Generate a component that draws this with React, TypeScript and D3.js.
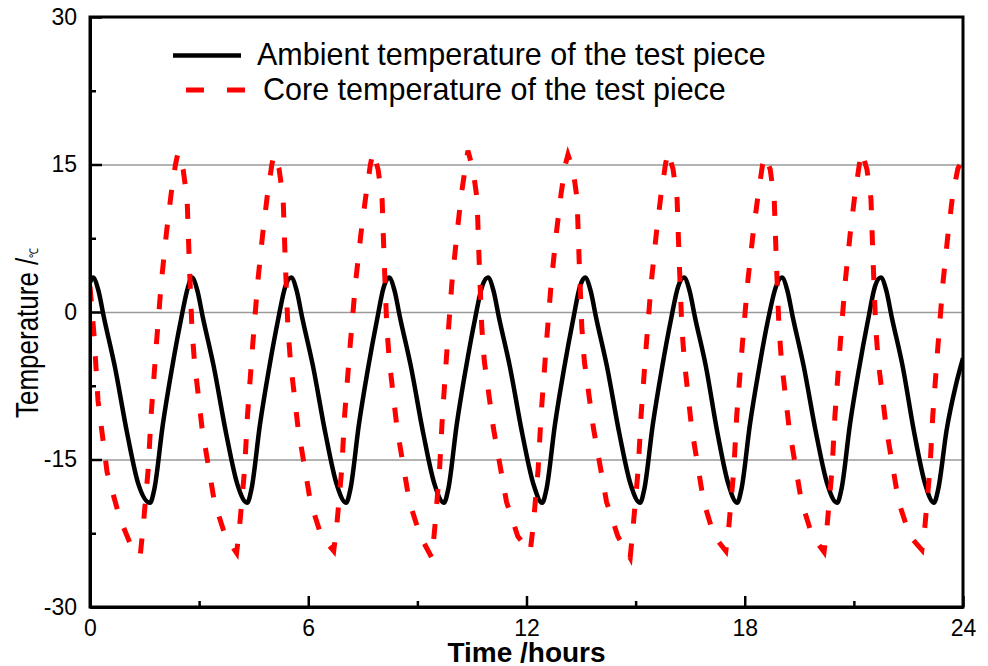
import React, { useEffect, useRef } from "react";
import * as d3 from "d3";

const W = 988;
const H = 666;
const PLOT = { left: 90, right: 963, top: 17, bottom: 607 };

const xDomain: [number, number] = [0, 24];
const yDomain: [number, number] = [-30, 30];
const xMajorTicks = [0, 6, 12, 18, 24];
const xMinorTicks = [3, 9, 15, 21];
const yMajorTicks = [-30, -15, 0, 15, 30];
const yMinorTicks = [-22.5, -7.5, 7.5, 22.5];
const gridValues = [-15, 0, 15];

const seriesNames = [
  "Ambient temperature of the test piece",
  "Core temperature of the test piece",
];
const xTitle = "Time /hours";
const yTitle = "Temperature /";
const yUnit = "℃";

// [time (hours), temperature]
const ambientData: [number, number][] = [
  [0, 3.0], [0.08, 3.5], [0.23, 2.2], [0.38, -0.5], [0.68, -5.5], [1.03, -12.5], [1.33, -17.5], [1.65, -19.4], [1.77, -18.0], [2.0, -11.5], [2.25, -5.8], [2.5, -0.8], [2.7, 2.6],
  [2.8, 3.5], [2.95, 2.2], [3.1, -0.5], [3.4, -5.5], [3.75, -12.5], [4.05, -17.5], [4.32, -19.4], [4.44, -18.0], [4.67, -11.5], [4.92, -5.8], [5.17, -0.8], [5.37, 2.6],
  [5.53, 3.5], [5.68, 2.2], [5.83, -0.5], [6.13, -5.5], [6.48, -12.5], [6.78, -17.5], [7.04, -19.4], [7.16, -18.0], [7.39, -11.5], [7.64, -5.8], [7.89, -0.8], [8.08, 2.6],
  [8.22, 3.5], [8.37, 2.2], [8.52, -0.5], [8.82, -5.5], [9.17, -12.5], [9.47, -17.5], [9.73, -19.4], [9.85, -18.0], [10.08, -11.5], [10.33, -5.8], [10.58, -0.8], [10.78, 2.6],
  [10.94, 3.5], [11.09, 2.2], [11.24, -0.5], [11.54, -5.5], [11.89, -12.5], [12.19, -17.5], [12.43, -19.4], [12.55, -18.0], [12.78, -11.5], [13.03, -5.8], [13.28, -0.8], [13.47, 2.6],
  [13.61, 3.5], [13.76, 2.2], [13.91, -0.5], [14.21, -5.5], [14.56, -12.5], [14.86, -17.5], [15.12, -19.4], [15.24, -18.0], [15.47, -11.5], [15.72, -5.8], [15.97, -0.8], [16.17, 2.6],
  [16.33, 3.5], [16.48, 2.2], [16.63, -0.5], [16.93, -5.5], [17.26, -12.5], [17.55, -17.5], [17.79, -19.4], [17.91, -18.0], [18.14, -11.5], [18.39, -5.8], [18.64, -0.8], [18.86, 2.6],
  [19.02, 3.5], [19.17, 2.2], [19.32, -0.5], [19.62, -5.5], [19.97, -12.5], [20.27, -17.5], [20.54, -19.4], [20.66, -18.0], [20.89, -11.5], [21.14, -5.8], [21.39, -0.8], [21.58, 2.6],
  [21.74, 3.5], [21.89, 2.2], [22.04, -0.5], [22.34, -5.5], [22.67, -12.5], [22.96, -17.5], [23.2, -19.4], [23.32, -18.0], [23.55, -12.0], [23.8, -7.5], [24.0, -4.7],
];

const coreData: [number, number][] = [
  [0, 2.6], [0.11, -2.3], [0.22, -9.0], [0.47, -16.3], [0.82, -21.0], [1.1, -23.5], [1.38, -24.8],
  [1.46, -21.9], [1.6, -16.0], [1.68, -10.5], [1.82, -3.5], [1.96, 3.0], [2.1, 8.0], [2.23, 12.0], [2.35, 15.0], [2.42, 16.2],
  [2.56, 14.5], [2.67, 11.5], [2.73, 5.0], [2.8, -1.5], [2.87, -5.0], [3.08, -11.8], [3.42, -19.3], [3.72, -22.8], [4.03, -24.5],
  [4.11, -21.9], [4.25, -16.0], [4.33, -10.5], [4.47, -3.5], [4.61, 3.0], [4.75, 8.0], [4.88, 12.0], [5.0, 15.0], [5.06, 16.0],
  [5.2, 14.5], [5.31, 11.5], [5.37, 5.0], [5.44, -1.5], [5.51, -5.0], [5.72, -11.8], [6.06, -19.3], [6.36, -22.8], [6.7, -24.3],
  [6.78, -21.9], [6.92, -16.0], [7.0, -10.5], [7.15, -3.5], [7.3, 3.0], [7.45, 8.0], [7.59, 12.0], [7.71, 15.0], [7.78, 16.3],
  [7.92, 14.5], [8.03, 11.5], [8.09, 5.0], [8.16, -1.5], [8.23, -5.0], [8.44, -11.8], [8.78, -19.3], [9.08, -22.8], [9.4, -25.0],
  [9.48, -21.9], [9.61, -16.0], [9.69, -10.5], [9.82, -3.5], [9.95, 3.0], [10.09, 8.0], [10.21, 12.0], [10.33, 15.0], [10.39, 16.4],
  [10.53, 14.5], [10.64, 11.5], [10.7, 5.0], [10.77, -1.5], [10.84, -5.0], [11.09, -11.8], [11.45, -19.3], [11.76, -22.8], [12.1, -24.4],
  [12.18, -21.9], [12.32, -16.0], [12.4, -10.5], [12.54, -3.5], [12.68, 3.0], [12.82, 8.0], [12.95, 12.0], [13.07, 15.0], [13.14, 16.0],
  [13.28, 14.5], [13.39, 11.5], [13.45, 5.0], [13.52, -1.5], [13.59, -5.0], [13.84, -11.8], [14.2, -19.3], [14.51, -22.8], [14.85, -25.0],
  [14.93, -21.9], [15.07, -16.0], [15.15, -10.5], [15.29, -3.5], [15.43, 3.0], [15.57, 8.0], [15.7, 12.0], [15.82, 15.0], [15.89, 16.3],
  [16.03, 14.5], [16.14, 11.5], [16.2, 5.0], [16.27, -1.5], [16.34, -5.0], [16.54, -11.8], [16.87, -19.3], [17.16, -22.8], [17.48, -24.3],
  [17.56, -21.9], [17.7, -16.0], [17.78, -10.5], [17.93, -3.5], [18.08, 3.0], [18.23, 8.0], [18.37, 12.0], [18.49, 15.0], [18.56, 15.9],
  [18.7, 14.5], [18.81, 11.5], [18.87, 5.0], [18.94, -1.5], [19.01, -5.0], [19.22, -11.8], [19.56, -19.3], [19.86, -22.8], [20.18, -24.4],
  [20.26, -21.9], [20.4, -16.0], [20.48, -10.5], [20.62, -3.5], [20.76, 3.0], [20.9, 8.0], [21.03, 12.0], [21.15, 15.0], [21.22, 16.3],
  [21.36, 14.5], [21.47, 11.5], [21.53, 5.0], [21.6, -1.5], [21.67, -5.0], [21.89, -11.8], [22.23, -19.3], [22.54, -22.8], [22.87, -24.2],
  [22.95, -21.9], [23.09, -16.0], [23.17, -10.5], [23.31, -3.5], [23.45, 3.0], [23.59, 8.0], [23.72, 12.0], [23.86, 14.6], [24.0, 15.5],
];

const FONT = "'Liberation Sans', Arial, Helvetica, sans-serif";

export default function App() {
  const ref = useRef<SVGSVGElement | null>(null);

  useEffect(() => {
    const svg = d3.select(ref.current);
    svg.selectAll("*").remove();

    const x = d3.scaleLinear().domain(xDomain).range([PLOT.left, PLOT.right]);
    const y = d3.scaleLinear().domain(yDomain).range([PLOT.bottom, PLOT.top]);
    const innerW = PLOT.right - PLOT.left;
    const plainFormat = (d: any) => String(d);

    svg.append("rect").attr("width", W).attr("height", H).attr("fill", "#fff");

    // grid
    svg
      .append("g")
      .attr("transform", `translate(${PLOT.left},0)`)
      .call(d3.axisLeft(y).tickValues(gridValues).tickSize(-innerW).tickFormat(() => ""))
      .call((g) => {
        g.select(".domain").remove();
        g.selectAll("line").attr("stroke", "#9a9a9a").attr("stroke-width", 1.3);
      });

    // clip
    svg
      .append("clipPath")
      .attr("id", "plotclip")
      .append("rect")
      .attr("x", PLOT.left)
      .attr("y", PLOT.top)
      .attr("width", innerW)
      .attr("height", PLOT.bottom - PLOT.top);

    const smoothLine = d3
      .line<[number, number]>()
      .x((d) => x(d[0]))
      .y((d) => y(d[1]))
      .curve(d3.curveMonotoneX);
    const polyLine = d3
      .line<[number, number]>()
      .x((d) => x(d[0]))
      .y((d) => y(d[1]))
      .curve(d3.curveLinear);

    const lines = svg.append("g").attr("clip-path", "url(#plotclip)");
    lines
      .append("path")
      .attr("d", smoothLine(ambientData) || "")
      .attr("fill", "none")
      .attr("stroke", "#000")
      .attr("stroke-width", 4.5)
      .attr("stroke-linejoin", "round");
    lines
      .append("path")
      .attr("d", polyLine(coreData) || "")
      .attr("fill", "none")
      .attr("stroke", "#ff0000")
      .attr("stroke-width", 5)
      .attr("stroke-dasharray", "15,20");

    const styleAxis = (g: any, sw: number) => {
      g.selectAll(".domain").attr("stroke", "#000").attr("stroke-width", 3);
      g.selectAll(".tick line").attr("stroke", "#000").attr("stroke-width", sw);
      g.selectAll(".tick text")
        .attr("font-family", FONT)
        .attr("font-size", 23)
        .attr("fill", "#000");
    };

    // frame (top & right)
    svg
      .append("rect")
      .attr("x", PLOT.left)
      .attr("y", PLOT.top)
      .attr("width", innerW)
      .attr("height", PLOT.bottom - PLOT.top)
      .attr("fill", "none")
      .attr("stroke", "#000")
      .attr("stroke-width", 3);

    // left axis
    svg
      .append("g")
      .attr("transform", `translate(${PLOT.left},0)`)
      .call(d3.axisLeft(y).tickValues(yMinorTicks).tickSize(-6).tickSizeOuter(0).tickFormat(() => ""))
      .call((g) => {
        g.select(".domain").remove();
        styleAxis(g, 2.5);
      });
    svg
      .append("g")
      .attr("transform", `translate(${PLOT.left},0)`)
      .call(d3.axisLeft(y).tickValues(yMajorTicks).tickSize(-12).tickSizeOuter(0).tickPadding(13).tickFormat(plainFormat))
      .call((g) => styleAxis(g, 2.5));

    // bottom axis
    svg
      .append("g")
      .attr("transform", `translate(0,${PLOT.bottom})`)
      .call(d3.axisBottom(x).tickValues(xMinorTicks).tickSize(-6).tickSizeOuter(0).tickFormat(() => ""))
      .call((g) => {
        g.select(".domain").remove();
        styleAxis(g, 2.5);
      });
    svg
      .append("g")
      .attr("transform", `translate(0,${PLOT.bottom})`)
      .call(d3.axisBottom(x).tickValues(xMajorTicks).tickSize(-11).tickSizeOuter(0).tickPadding(13).tickFormat(plainFormat))
      .call((g) => styleAxis(g, 2.5));

    // axis titles
    svg
      .append("text")
      .attr("x", (PLOT.left + PLOT.right) / 2)
      .attr("y", 662)
      .attr("text-anchor", "middle")
      .attr("font-family", FONT)
      .attr("font-weight", "bold")
      .attr("font-size", 28)
      .attr("fill", "#000")
      .text(xTitle);

    const yt = svg
      .append("text")
      .attr("transform", "translate(38,418) rotate(-90) scale(1,1.2)")
      .attr("font-family", FONT)
      .attr("font-size", 26)
      .attr("fill", "#000");
    yt.append("tspan").text(yTitle);
    yt.append("tspan").attr("font-size", 10).text(yUnit);

    // legend
    const lg = svg.append("g");
    lg.append("line")
      .attr("x1", 173)
      .attr("x2", 241)
      .attr("y1", 55.5)
      .attr("y2", 55.5)
      .attr("stroke", "#000")
      .attr("stroke-width", 4.5);
    lg.append("line")
      .attr("x1", 186)
      .attr("x2", 245)
      .attr("y1", 90)
      .attr("y2", 90)
      .attr("stroke", "#ff0000")
      .attr("stroke-width", 5)
      .attr("stroke-dasharray", "18,23");
    lg.append("text")
      .attr("x", 257)
      .attr("y", 65)
      .attr("font-family", FONT)
      .attr("font-size", 30.5)
      .attr("fill", "#000")
      .text(seriesNames[0]);
    lg.append("text")
      .attr("x", 263)
      .attr("y", 100)
      .attr("font-family", FONT)
      .attr("font-size", 30.5)
      .attr("fill", "#000")
      .text(seriesNames[1]);
  }, []);

  return (
    <svg
      ref={ref}
      width={W}
      height={H}
      style={{ position: "absolute", left: 0, top: 0, display: "block" }}
    />
  );
}
